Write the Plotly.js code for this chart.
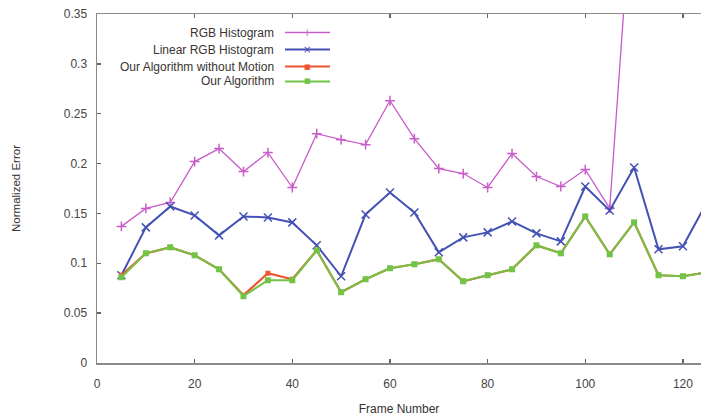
<!DOCTYPE html>
<html>
<head>
<meta charset="utf-8">
<script src="https://cdn.plot.ly/plotly-3.0.1.min.js"></script>
<style>html,body{margin:0;padding:0;background:#fff;}#chart{width:701px;height:418px;}</style>
</head>
<body>
<div id="chart"></div>
<script>
const frames = [5,10,15,20,25,30,35,40,45,50,55,60,65,70,75,80,85,90,95,100,105,110,115,120,125];
const rgbHist = [0.137,0.155,0.161,0.202,0.215,0.192,0.211,0.176,0.230,0.224,0.219,0.263,0.225,0.195,0.190,0.176,0.210,0.187,0.177,0.194,0.155,0.50,0.52,0.50,0.52];
const linearRgbHist = [0.088,0.136,0.157,0.148,0.128,0.147,0.146,0.141,0.118,0.087,0.149,0.171,0.151,0.111,0.126,0.131,0.142,0.130,0.122,0.177,0.153,0.196,0.114,0.117,0.162];
const oursNoMotion = [0.088,0.110,0.116,0.108,0.094,0.068,0.090,0.084,0.113,0.071,0.084,0.095,0.099,0.104,0.082,0.088,0.094,0.118,0.110,0.147,0.109,0.141,0.088,0.087,0.091];
const ours = [0.086,0.110,0.116,0.108,0.094,0.067,0.083,0.083,0.113,0.071,0.084,0.095,0.099,0.104,0.082,0.088,0.094,0.118,0.110,0.147,0.109,0.141,0.088,0.087,0.091];
const seriesNames = ["RGB Histogram","Linear RGB Histogram","Our Algorithm without Motion","Our Algorithm"];
const colors = ["#c85cc8","#4452b4","#ee5530","#72c446"];
const symbols = ["cross-thin-open","x-thin-open","square","square"];
const legendGlyphs = ["+","\u00d7","\u25a0","\u25a0"];

const W = 701, H = 418, L = 97, T = 14, B = 55, R = 0;
const pw = W - L - R, ph = H - T - B;
const px2x = p => (p - L) / pw;
const py2y = p => (H - B - p) / ph;

const values = [rgbHist, linearRgbHist, oursNoMotion, ours];
const widths = [1.3, 2, 2.2, 2];
const msizes = [7, 8, 5, 6];
const traces = values.map((v, i) => ({
  x: frames, y: v, name: seriesNames[i], type: "scatter", mode: "lines+markers",
  line: {color: colors[i], width: widths[i]},
  marker: {color: colors[i], symbol: symbols[i], size: msizes[i], line: {color: colors[i], width: i < 2 ? 1.5 : 0}},
  showlegend: false, cliponaxis: true
}));

const legendRows = [32.5, 49.5, 66.5, 81.5];
const annotations = [];
const shapes = [];
legendRows.forEach((py, i) => {
  annotations.push({xref: "paper", yref: "paper", x: px2x(276), y: py2y(py), xanchor: "right", yanchor: "middle",
    text: seriesNames[i], showarrow: false, font: {family: "Liberation Sans, Arial, sans-serif", size: 12, color: "#3a3330"}});
  shapes.push({type: "line", xref: "paper", yref: "paper", x0: px2x(285), x1: px2x(330), y0: py2y(py), y1: py2y(py),
    line: {color: colors[i], width: widths[i]}});
  annotations.push({xref: "paper", yref: "paper", x: px2x(307), y: py2y(py), xanchor: "center", yanchor: "middle",
    text: legendGlyphs[i], showarrow: false, font: {family: "DejaVu Sans, sans-serif", size: i < 2 ? 10 : 7, color: colors[i]}});
});

const layout = {
  width: W, height: H,
  margin: {l: L, r: R, t: T, b: B, pad: 0},
  paper_bgcolor: "#fff", plot_bgcolor: "#fff",
  font: {family: "Liberation Sans, Arial, sans-serif", size: 12, color: "#333"},
  showlegend: false,
  xaxis: {
    range: [0, 123.7], tickvals: [0,20,40,60,80,100,120], ticks: "inside", ticklen: 4, tickwidth: 1.5, tickcolor: "#666",
    showline: true, linecolor: "#8a8a8a", linewidth: 1.5, mirror: "ticks", showgrid: false, zeroline: false,
    tickfont: {size: 12, color: "#444"}, ticklabelstandoff: 9,
    title: {text: "Frame Number", font: {size: 12, color: "#333"}, standoff: 14}
  },
  yaxis: {
    range: [0, 0.35], dtick: 0.05, ticks: "inside", ticklen: 4, tickwidth: 1.5, tickcolor: "#666",
    showline: true, linecolor: "#8a8a8a", linewidth: 1.5, mirror: false, showgrid: false, zeroline: false,
    tickfont: {size: 12, color: "#444"}, ticklabelstandoff: 6,
    title: {text: "Normalized Error", font: {size: 11.5, color: "#333"}, standoff: 40}
  },
  annotations: annotations,
  shapes: shapes
};

Plotly.newPlot("chart", traces, layout, {displayModeBar: false, staticPlot: true});
</script>
</body>
</html>
